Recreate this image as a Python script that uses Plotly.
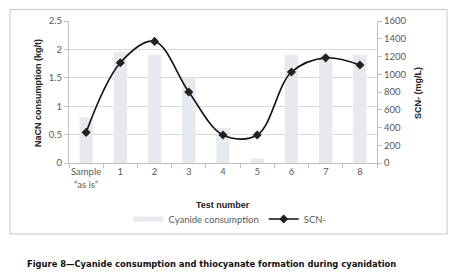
import plotly.graph_objects as go

categories = ["Sample<br>\u201cas is\u201d", "1", "2", "3", "4", "5", "6", "7", "8"]
cyanide_consumption = [0.80, 1.96, 1.90, 1.50, 0.62, 0.08, 1.90, 1.90, 1.90]
scn = [345, 1130, 1370, 800, 315, 315, 1025, 1185, 1105]

W, H = 455, 274
L, R, T, B = 69, 78, 21, 111
pw, ph = W - L - R, H - T - B
BAR_COLOR = "#e6e9ee"

tick_font = dict(family="Lato, Open Sans, sans-serif", size=9.5, color="#595959")
title_font = dict(family="Liberation Sans, Arial, sans-serif", size=9, color="#222222")

fig = go.Figure()
fig.add_trace(go.Bar(x=categories, y=cyanide_consumption, name="Cyanide consumption",
                     marker=dict(color=BAR_COLOR, line=dict(width=0)), width=0.39, yaxis="y",
                     showlegend=False))
# legend-only swatch for the bars (wide, flat like the original)
fig.add_trace(go.Scatter(x=[None], y=[None], name="Cyanide consumption", mode="lines",
                         line=dict(color=BAR_COLOR, width=5), yaxis="y"))
fig.add_trace(go.Scatter(x=categories, y=scn, name="SCN-", yaxis="y2", mode="lines+markers",
                         line=dict(color="#111111", width=1.6, shape="spline", smoothing=1.0),
                         marker=dict(symbol="diamond", size=7, color="#222222")))

def px(x):
    return (x - L) / pw
def py(y):
    return (H - B - y) / ph

fig.update_layout(
    width=W, height=H, margin=dict(l=L, r=R, t=T, b=B, autoexpand=False),
    paper_bgcolor="white", plot_bgcolor="white",
    showlegend=True,
    legend=dict(orientation="h", x=px(230), xanchor="center", y=py(219), yanchor="middle",
                font=dict(family="Lato, Open Sans, sans-serif", size=9.5, color="#595959"),
                tracegroupgap=0, bgcolor="rgba(0,0,0,0)", itemwidth=30),
    xaxis=dict(type="category", tickson="boundaries", ticks="outside", ticklen=4, tickangle=0,
               tickcolor="#bfbfbf", showline=True, linecolor="#bfbfbf", linewidth=1,
               showgrid=False, tickfont=tick_font, range=[-0.5, 8.5]),
    yaxis=dict(range=[0, 2.5], tickvals=[0, 0.5, 1, 1.5, 2, 2.5],
               ticktext=["0", "0.5", "1", "1.5", "2", "2.5"],
               showgrid=True, gridcolor="#d9d9d9", gridwidth=1, zeroline=False,
               ticks="outside", ticklen=4, tickcolor="#bfbfbf",
               showline=True, linecolor="#bfbfbf", tickfont=tick_font),
    yaxis2=dict(range=[0, 1600], dtick=200, overlaying="y", side="right", showgrid=False,
                zeroline=False, ticks="outside", ticklen=4, tickcolor="#bfbfbf",
                showline=True, linecolor="#bfbfbf", tickfont=tick_font),
    bargap=0.6,
)

fig.add_annotation(text="<b>Test number</b>", xref="paper", yref="paper", x=px(223), y=py(205),
                   showarrow=False, font=title_font, xanchor="center", yanchor="middle")
fig.add_annotation(text="<b>NaCN consumption (kg/t)</b>", xref="paper", yref="paper", x=px(38), y=py(93),
                   showarrow=False, font=title_font, textangle=-90, xanchor="center", yanchor="middle")
fig.add_annotation(text="<b>SCN- (mg/L)</b>", xref="paper", yref="paper", x=px(418), y=py(93),
                   showarrow=False, font=title_font, textangle=-90, xanchor="center", yanchor="middle")
fig.add_annotation(text="<b>Figure 8\u2014Cyanide consumption and thiocyanate formation during cyanidation</b>",
                   xref="paper", yref="paper", x=px(25), y=py(263), showarrow=False,
                   font=dict(family="DejaVu Sans Condensed, Liberation Sans Narrow, Liberation Sans, sans-serif", size=9.3, color="#111111"),
                   xanchor="left", yanchor="middle")

fig.add_shape(type="rect", xref="paper", yref="paper", x0=px(10), x1=px(447), y0=py(234), y1=py(9.5),
              line=dict(color="#c8c8c8", width=1), fillcolor="rgba(0,0,0,0)", layer="below")

fig.write_html("out.html", config={"displayModeBar": False},
               post_script="document.body.style.margin='0';document.body.style.overflow='hidden';")
